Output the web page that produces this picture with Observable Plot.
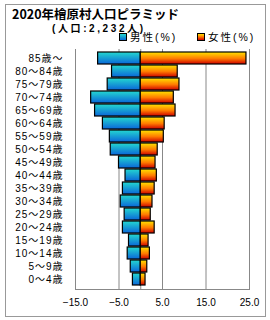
<!DOCTYPE html>
<html><head><meta charset="utf-8">
<script src="https://cdn.jsdelivr.net/npm/d3@7"></script>
<script src="https://cdn.jsdelivr.net/npm/@observablehq/plot@0.6"></script>
<style>
body{margin:0;background:#fff;font-family:"Liberation Sans","Noto Sans CJK JP",sans-serif;}
#wrap{position:relative;width:270px;height:320px;overflow:hidden;}
#frame{position:absolute;left:5px;top:4px;width:259px;height:311px;border:1px solid #999;box-sizing:content-box;}
.t{position:absolute;white-space:nowrap;font-weight:bold;color:#000;}
#title{left:12px;top:6px;font-size:12.5px;line-height:15px;font-family:"Noto Sans CJK JP",sans-serif;}
#sub{left:52px;top:23px;font-size:10px;line-height:11px;letter-spacing:2.6px;font-family:"Liberation Sans","Noto Sans CJK JP",sans-serif;}
.lg{position:absolute;top:32px;font-size:10.5px;line-height:11px;white-space:nowrap;font-family:"Liberation Sans","Noto Sans CJK JP",sans-serif;letter-spacing:2px;}
.sq{display:inline-block;width:6px;height:6px;border:1px solid #000;vertical-align:middle;margin-right:3px;position:relative;top:-1px;}
#chart{position:absolute;left:0;top:44px;}
</style></head>
<body><div id="wrap">
<div id="frame"></div>
<div class="t" id="title">2020年檜原村人口ピラミッド</div>
<div class="t" id="sub">(人口:2,232人)</div>
<div class="lg" style="left:119px"><span class="sq" style="background:linear-gradient(#22d6d2,#0a6ad8)"></span>男性(%)</div>
<div class="lg" style="left:197px"><span class="sq" style="background:linear-gradient(#ffe000,#ff7000,#d00000)"></span>女性(%)</div>
<div id="chart"></div>
</div>
<script>
const ages = ["85歳～","80～84歳","75～79歳","70～74歳","65～69歳","60～64歳","55～59歳","50～54歳","45～49歳","40～44歳","35～39歳","30～34歳","25～29歳","20～24歳","15～19歳","10～14歳","5～9歳","0～4歳"];
const male = [9.8,6.6,7.6,11.4,10.5,8.7,7.1,6.9,5.0,3.5,4.1,4.6,3.7,4.1,2.7,3.0,2.3,1.8];
const female = [24.3,8.5,8.9,7.6,8.0,5.5,5.3,3.9,3.4,3.7,3.2,2.7,2.3,3.2,1.8,2.1,1.5,1.1];
const xTicks = [-15,-5,5,15,25];

const rows = [];
ages.forEach((a,i)=>{
  rows.push({age:a, sex:"m", v:-male[i]});
  rows.push({age:a, sex:"f", v:female[i]});
});
const fmt = d=>d.toFixed(1).replace("-","−");

const chart = Plot.plot({
  width:270, height:268,
  marginTop:5, marginBottom:23, marginLeft:75, marginRight:21,
  style:{fontFamily:"'Liberation Sans','Noto Sans CJK JP',sans-serif", fontSize:"10px", color:"#000", background:"transparent"},
  x:{domain:[-15,25], ticks:xTicks, tickFormat:fmt, tickSize:0, tickPadding:9, label:null},
  y:{domain:ages, padding:0.04, tickSize:0, tickPadding:12, label:null},
  marks:[
    Plot.ruleX([-15,-5,0,5,15,25],{stroke:"#888", strokeOpacity:1}),
    Plot.frame({anchor:"bottom", stroke:"#888"}),
    Plot.barX(rows,{y:"age", x1:0, x2:"v", fill:d=>d.sex==="m"?"url(#gm)":"url(#gf)", stroke:"#000", strokeWidth:1.2}),
    Plot.axisX({ticks:xTicks, tickSize:0, tickPadding:9, tickFormat:fmt, fontSize:10}),
    Plot.axisY({tickSize:0, tickPadding:12, fontSize:10})
  ]
});
const svg = d3.select(chart);
svg.selectAll("[aria-label='y-axis tick label'] text").style("letter-spacing","1px");
const defs = svg.insert("defs",":first-child");
const gm = defs.append("linearGradient").attr("id","gm").attr("x1",0).attr("y1",0).attr("x2",0).attr("y2",1);
gm.append("stop").attr("offset","0%").attr("stop-color","#24d8d0");
gm.append("stop").attr("offset","100%").attr("stop-color","#0a66d8");
const gf = defs.append("linearGradient").attr("id","gf").attr("x1",0).attr("y1",0).attr("x2",0).attr("y2",1);
gf.append("stop").attr("offset","0%").attr("stop-color","#ffe400");
gf.append("stop").attr("offset","55%").attr("stop-color","#ff7a00");
gf.append("stop").attr("offset","100%").attr("stop-color","#cc0000");
document.getElementById("chart").appendChild(chart);
</script>
</body></html>
